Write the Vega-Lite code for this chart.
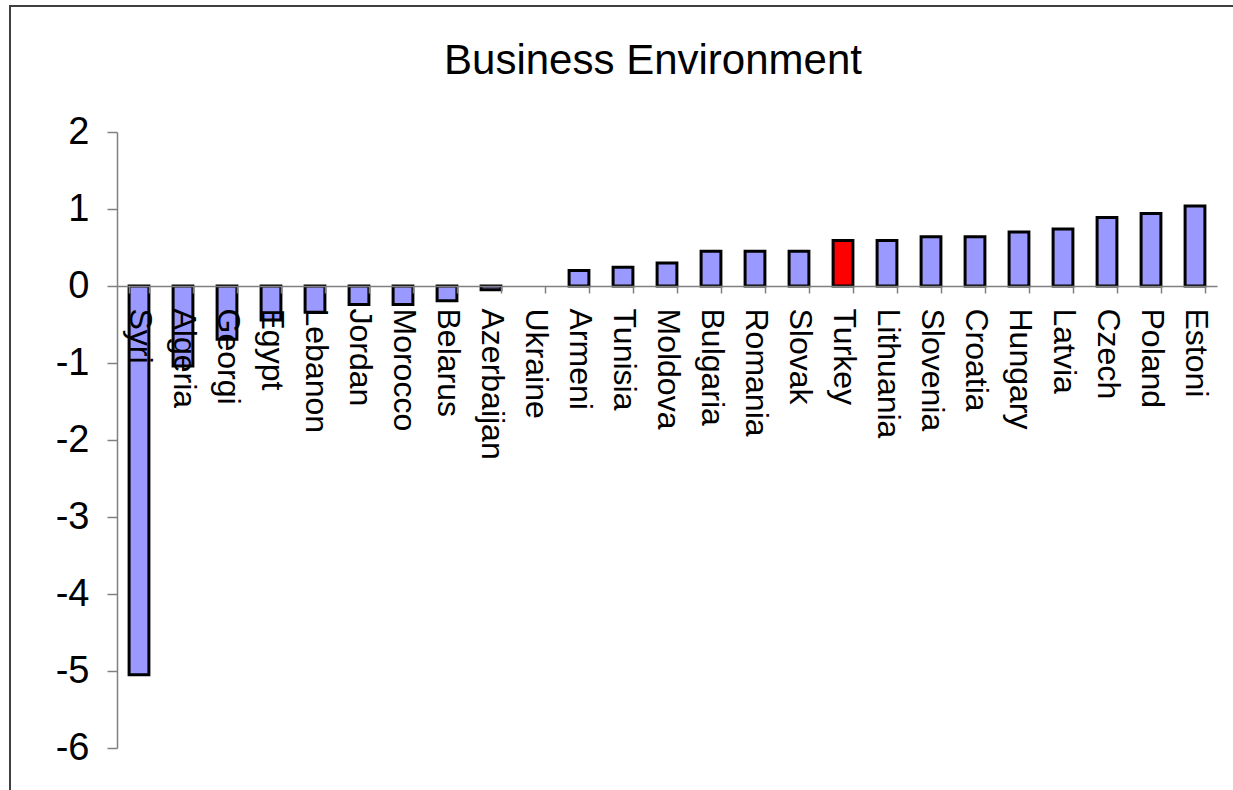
{
  "$schema": "https://vega.github.io/schema/vega-lite/v6.json",
  "autosize": {"type": "none"},
  "width": 1232,
  "height": 790,
  "padding": {"left": 10, "top": 6, "right": 0, "bottom": 0},
  "background": "white",
  "config": {
    "view": {"stroke": "#404040", "strokeWidth": 2},
    "font": "Liberation Sans"
  },
  "title": {
    "text": "Business Environment",
    "font": "Liberation Sans",
    "fontSize": 42,
    "fontWeight": "normal",
    "color": "black",
    "anchor": "middle",
    "baseline": "alphabetic",
    "offset": -110,
    "dx": 27
  },
  "data": {
    "values": [
      {"country": "Syri", "score": -5.05},
      {"country": "Algeria", "score": -1.04},
      {"country": "Georgi", "score": -0.69},
      {"country": "Egypt", "score": -0.44},
      {"country": "Lebanon", "score": -0.34},
      {"country": "Jordan", "score": -0.24},
      {"country": "Morocco", "score": -0.24},
      {"country": "Belarus", "score": -0.19},
      {"country": "Azerbaijan", "score": -0.05},
      {"country": "Ukraine", "score": 0},
      {"country": "Armeni", "score": 0.2},
      {"country": "Tunisia", "score": 0.245},
      {"country": "Moldova", "score": 0.3},
      {"country": "Bulgaria", "score": 0.45},
      {"country": "Romania", "score": 0.45},
      {"country": "Slovak", "score": 0.45},
      {"country": "Turkey", "score": 0.59},
      {"country": "Lithuania", "score": 0.59},
      {"country": "Slovenia", "score": 0.64},
      {"country": "Croatia", "score": 0.64},
      {"country": "Hungary", "score": 0.7},
      {"country": "Latvia", "score": 0.74},
      {"country": "Czech", "score": 0.89},
      {"country": "Poland", "score": 0.94},
      {"country": "Estoni", "score": 1.04}
    ]
  },
  "mark": {"type": "bar", "stroke": "black", "strokeWidth": 3, "strokeJoin": "miter"},
  "encoding": {
    "x": {
      "field": "country",
      "type": "nominal",
      "sort": null,
      "scale": {"range": [107, 1207], "paddingInner": 0.55, "paddingOuter": 0.275},
      "axis": {
        "title": null,
        "orient": "bottom",
        "offset": -510,
        "zindex": 1,
        "domainColor": "#808080",
        "domainWidth": 1.5,
        "tickColor": "#808080",
        "tickWidth": 1.5,
        "tickSize": 7,
        "tickBand": "extent",
        "labelAngle": 90,
        "labelAlign": "left",
        "labelBaseline": "middle",
        "labelPadding": 15,
        "labelFont": "Liberation Sans",
        "labelFontSize": 32,
        "labelColor": "black",
        "labelOverlap": false,
        "labelLimit": 0
      }
    },
    "y": {
      "field": "score",
      "type": "quantitative",
      "scale": {"domain": [-6, 2], "range": [742, 126], "nice": false, "zero": false},
      "axis": {
        "title": null,
        "orient": "left",
        "offset": -107,
        "grid": false,
        "values": [-6, -5, -4, -3, -2, -1, 0, 1, 2],
        "labelExpr": "'' + datum.value",
        "domainColor": "#808080",
        "domainWidth": 1.5,
        "tickColor": "#808080",
        "tickWidth": 1.5,
        "tickSize": 10,
        "labelPadding": 18,
        "labelFont": "Liberation Sans",
        "labelFontSize": 38,
        "labelColor": "black"
      }
    },
    "fill": {
      "condition": {"test": "datum.country === 'Turkey'", "value": "#FF0000"},
      "value": "#9999FF"
    },
    "strokeOpacity": {
      "condition": {"test": "datum.score === 0", "value": 0},
      "value": 1
    }
  }
}
